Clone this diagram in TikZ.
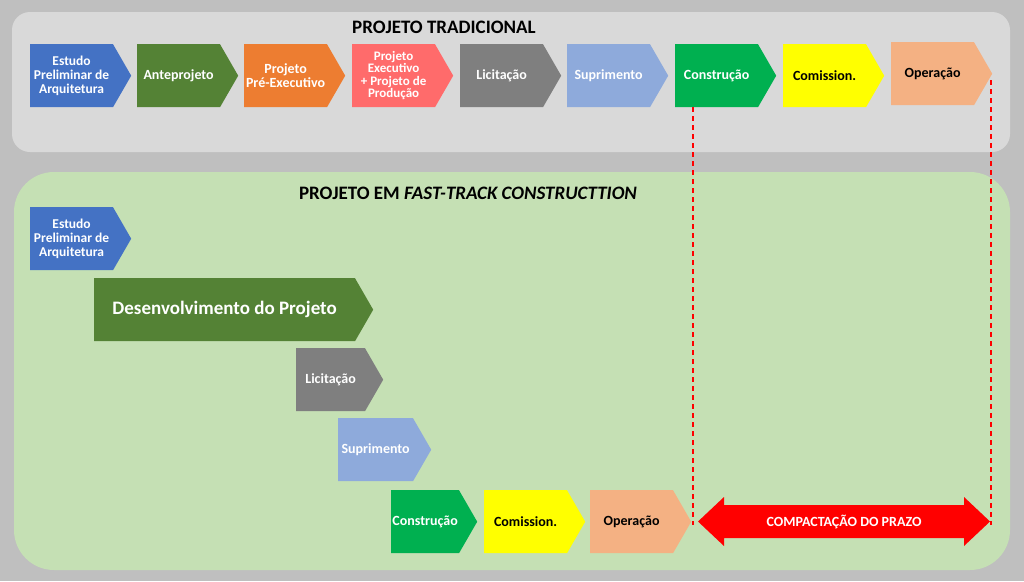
\documentclass[tikz,border=0pt]{standalone}
\usepackage{fontspec}
\setmainfont{Carlito}
\usetikzlibrary{shapes.symbols}
\definecolor{bgc}{HTML}{BFBFBF}
\definecolor{topc}{HTML}{D9D9D9}
\definecolor{botc}{HTML}{C5E0B4}
\definecolor{cblue}{HTML}{4472C4}
\definecolor{cdg}{HTML}{548235}
\definecolor{cor}{HTML}{ED7D31}
\definecolor{csal}{HTML}{FF6B6B}
\definecolor{cgray}{HTML}{7F7F7F}
\definecolor{clb}{HTML}{8EAADB}
\definecolor{cgr}{HTML}{00B050}
\definecolor{cyl}{HTML}{FFFF00}
\definecolor{cpe}{HTML}{F4B183}
\begin{document}
\begin{tikzpicture}[x=1pt,y=-1pt,
  chev/.style={signal,signal to=east,signal pointer angle=120,draw=none,inner sep=0pt,
    anchor=north west,minimum height=63pt,align=center,font=\bfseries\fontsize{14}{14.5}\selectfont,text=white},
  wide/.style={minimum width=101pt},
  dk/.style={text=black}]
\fill[bgc] (0,0) rectangle (1024,581);
\useasboundingbox (0,0) rectangle (1024,581);
\fill[topc,rounded corners=18pt] (12,12) rectangle (1010,152);
\fill[botc,rounded corners=40pt] (14,172) rectangle (1010,570);
\node[font=\bfseries\fontsize{19}{20}\selectfont] (t1) at (444,27) {PROJETO TRADICIONAL};
\node[font=\bfseries\fontsize{19}{20}\selectfont] (t2) at (468,193) {PROJETO EM \textit{FAST-TRACK CONSTRUCTTION}};
% top row
\node[chev,wide,fill=cblue,font=\bfseries\fontsize{13.5}{14}\selectfont] (a1) at (30,44) {Estudo\\Preliminar de\\Arquitetura};
\node[chev,wide,fill=cdg] (a2) at (137,44) {Anteprojeto};
\node[chev,wide,fill=cor] (a3) at (244,44) {Projeto\\Pré-Executivo};
\node[chev,wide,fill=csal,font=\bfseries\fontsize{13}{12.5}\selectfont] (a4) at (352,44) {Projeto\\Executivo\\+ Projeto de\\Produção};
\node[chev,wide,fill=cgray] (a5) at (460,44) {Licitação};
\node[chev,wide,fill=clb] (a6) at (567,44) {Suprimento};
\node[chev,wide,fill=cgr] (a7) at (675,44) {Construção};
\node[chev,wide,fill=cyl,dk] (a8) at (783,44) {Comission.};
\node[chev,wide,fill=cpe,dk] (a9) at (891,42) {Operação};
% bottom
\node[chev,wide,fill=cblue,font=\bfseries\fontsize{13.5}{14}\selectfont] (b1) at (30,207) {Estudo\\Preliminar de\\Arquitetura};
\node[chev,fill=cdg,minimum width=279pt,font=\bfseries\fontsize{19}{20}\selectfont] (b2) at (94,278) {Desenvolvimento do Projeto};
\node[chev,fill=cgray,minimum width=87pt] (b3) at (296,348) {Licitação};
\node[chev,fill=clb,minimum width=93pt] (b4) at (338,418) {Suprimento};
\node[chev,fill=cgr,minimum width=86pt] (b5) at (391,490) {Construção};
\node[chev,wide,fill=cyl,dk] (b6) at (484,490) {Comission.};
\node[chev,wide,fill=cpe,dk] (b7) at (590,490) {Operação};
% dashed
\coordinate (d1) at (693,525);
\coordinate (d2) at (991,525);
\draw[red,dashed,line width=1.2pt,dash pattern=on 5pt off 4pt] (693,107) -- (d1);
\draw[red,dashed,line width=1.2pt,dash pattern=on 5pt off 4pt] (991,80) -- (d2);
% red double arrow
\fill[red] (698,521.5) -- (724,497) -- (724,505) -- (964,505) -- (964,497) -- (990,521.5) -- (964,546) -- (964,538) -- (724,538) -- (724,546) -- cycle;
\node[text=white,font=\bfseries\fontsize{14}{14}\selectfont] (c) at (844,521.5) {COMPACTAÇÃO DO PRAZO};
\end{tikzpicture}
\end{document}
